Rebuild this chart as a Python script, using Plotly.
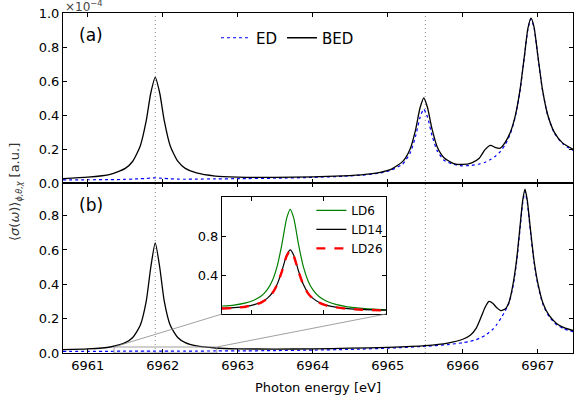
import plotly.graph_objects as go

# ---------------- data ----------------
energy_a = [6960.67, 6961.0, 6961.3, 6961.5, 6961.6, 6961.7, 6961.78, 6961.84, 6961.9, 6961.96,
            6962.02, 6962.1, 6962.2, 6962.3, 6962.45, 6962.7, 6963.0, 6963.5, 6964.0, 6964.4,
            6964.7, 6964.9, 6965.05, 6965.2, 6965.3, 6965.37, 6965.43, 6965.48, 6965.53, 6965.59,
            6965.66, 6965.75, 6965.87, 6966.0, 6966.12, 6966.22, 6966.3, 6966.37, 6966.44, 6966.5,
            6966.57, 6966.64, 6966.7, 6966.76, 6966.82, 6966.87, 6966.91, 6966.95, 6967.0, 6967.06,
            6967.13, 6967.22, 6967.33, 6967.47]
bed_a = [0.026, 0.034, 0.051, 0.086, 0.128, 0.218, 0.367, 0.528, 0.621, 0.528,
         0.367, 0.218, 0.128, 0.086, 0.059, 0.041, 0.035, 0.033, 0.036, 0.042,
         0.051, 0.063, 0.082, 0.127, 0.202, 0.311, 0.441, 0.500, 0.444, 0.318,
         0.212, 0.149, 0.116, 0.109, 0.119, 0.146, 0.198, 0.221, 0.208, 0.205,
         0.242, 0.305, 0.395, 0.537, 0.740, 0.912, 0.970, 0.918, 0.754, 0.558,
         0.406, 0.299, 0.236, 0.198]
ed_a = [0.018, 0.019, 0.020, 0.021, 0.023, 0.025, 0.027, 0.029, 0.030, 0.029,
        0.027, 0.025, 0.023, 0.022, 0.023, 0.024, 0.0255, 0.028, 0.033, 0.0395,
        0.048, 0.059, 0.077, 0.112, 0.178, 0.274, 0.385, 0.435, 0.388, 0.280,
        0.189, 0.134, 0.110, 0.101, 0.104, 0.112, 0.122, 0.138, 0.159, 0.185,
        0.228, 0.296, 0.388, 0.531, 0.736, 0.908, 0.966, 0.915, 0.751, 0.555,
        0.403, 0.295, 0.232, 0.192]

energy_b = [6960.67, 6961.0, 6961.3, 6961.5, 6961.6, 6961.7, 6961.78, 6961.84, 6961.9, 6961.96,
            6962.02, 6962.1, 6962.2, 6962.3, 6962.45, 6962.7, 6963.0, 6963.5, 6964.0, 6964.5,
            6965.0, 6965.5, 6965.8, 6966.0, 6966.1, 6966.18, 6966.25, 6966.3, 6966.35, 6966.4,
            6966.45, 6966.51, 6966.57, 6966.62, 6966.67, 6966.72, 6966.76, 6966.8, 6966.83, 6966.86,
            6966.9, 6966.95, 6967.0, 6967.07, 6967.15, 6967.25, 6967.35, 6967.47]
bed_b = [0.020, 0.024, 0.035, 0.060, 0.090, 0.161, 0.302, 0.498, 0.641, 0.498,
         0.302, 0.161, 0.090, 0.060, 0.041, 0.029, 0.024, 0.023, 0.024, 0.028,
         0.033, 0.043, 0.058, 0.080, 0.103, 0.145, 0.215, 0.268, 0.300, 0.290,
         0.265, 0.247, 0.258, 0.300, 0.400, 0.550, 0.720, 0.890, 0.954, 0.890,
         0.730, 0.540, 0.410, 0.290, 0.220, 0.172, 0.148, 0.131]
ed_b = [0.010, 0.010, 0.010, 0.011, 0.011, 0.011, 0.011, 0.011, 0.011, 0.011,
        0.011, 0.011, 0.011, 0.011, 0.011, 0.012, 0.012, 0.014, 0.017, 0.021,
        0.028, 0.039, 0.049, 0.060, 0.068, 0.078, 0.091, 0.103, 0.119, 0.138,
        0.164, 0.203, 0.248, 0.296, 0.388, 0.535, 0.705, 0.875, 0.940, 0.877,
        0.718, 0.530, 0.400, 0.282, 0.212, 0.165, 0.141, 0.124]

energy_inset = [6961.35, 6961.45, 6961.55, 6961.62, 6961.68, 6961.73, 6961.77, 6961.81, 6961.85, 6961.89,
                6961.92, 6961.95, 6961.99, 6962.03, 6962.07, 6962.11, 6962.16, 6962.22, 6962.3, 6962.4,
                6962.52, 6962.72]
ld6 = [0.082, 0.092, 0.114, 0.143, 0.187, 0.253, 0.341, 0.486, 0.712, 0.981,
       1.074, 0.980, 0.710, 0.483, 0.337, 0.247, 0.179, 0.133, 0.098, 0.074,
       0.057, 0.042]
ld14 = [0.059, 0.065, 0.078, 0.096, 0.123, 0.163, 0.216, 0.303, 0.440, 0.602,
        0.658, 0.601, 0.439, 0.302, 0.213, 0.160, 0.120, 0.091, 0.071, 0.056,
        0.047, 0.039]
ld26 = [0.057, 0.062, 0.075, 0.093, 0.120, 0.159, 0.212, 0.298, 0.434, 0.594,
        0.649, 0.593, 0.433, 0.297, 0.209, 0.157, 0.117, 0.088, 0.068, 0.053,
        0.044, 0.036]

x_ticks = [6961, 6962, 6963, 6964, 6965, 6966, 6967]
ya_ticks = [0.0, 0.2, 0.4, 0.6, 0.8, 1.0]
yb_ticks = [0.0, 0.2, 0.4, 0.6, 0.8]
inset_x_ticks = [6961.6, 6962.2]
inset_y_ticks = [0.4, 0.8]
x_range = [6960.67, 6967.47]
ya_range = [0.0, 1.0]
yb_range = [0.0, 0.99]
inset_x_range = [6961.35, 6962.72]
inset_y_range = [0.0, 1.2]
marker_energies = [6961.9, 6965.5]
zoom_box_top = 0.035

# ---------------- layout geometry ----------------
W, H = 578, 402
ML, MR, MT, MB = 63, 5, 13, 49
PW, PH = W - ML - MR, H - MT - MB
inset_dom_x = [(222 - ML) / PW, (386 - ML) / PW]
inset_dom_y = [(H - MB - 314) / PH, (H - MB - 197) / PH]

FONT = "DejaVu Sans"
fig = go.Figure()

line_ed = dict(color="#0000ff", width=1.2, dash="dot", shape="spline", smoothing=0.6)
line_bed = dict(color="black", width=1.3, shape="spline", smoothing=0.6)

fig.add_trace(go.Scatter(x=energy_a, y=ed_a, xaxis="x", yaxis="y", mode="lines", name="ED",
                         line=line_ed, legend="legend"))
fig.add_trace(go.Scatter(x=energy_a, y=bed_a, xaxis="x", yaxis="y", mode="lines", name="BED",
                         line=line_bed, legend="legend"))
fig.add_trace(go.Scatter(x=energy_b, y=ed_b, xaxis="x2", yaxis="y2", mode="lines", name="ED",
                         line=line_ed, showlegend=False))
fig.add_trace(go.Scatter(x=energy_b, y=bed_b, xaxis="x2", yaxis="y2", mode="lines", name="BED",
                         line=line_bed, showlegend=False))

fig.add_trace(go.Scatter(x=energy_inset, y=ld6, xaxis="x3", yaxis="y3", mode="lines", name="LD6",
                         line=dict(color="#008000", width=1.2, shape="spline", smoothing=0.6), legend="legend2"))
fig.add_trace(go.Scatter(x=energy_inset, y=ld14, xaxis="x3", yaxis="y3", mode="lines", name="LD14",
                         line=dict(color="black", width=1.2, shape="spline", smoothing=0.6), legend="legend2"))
fig.add_trace(go.Scatter(x=energy_inset, y=ld26, xaxis="x3", yaxis="y3", mode="lines", name="LD26",
                         line=dict(color="#ff0000", width=2.4, dash="dash", shape="spline", smoothing=0.6),
                         legend="legend2"))

common = dict(showline=True, linecolor="black", linewidth=1, mirror="ticks", ticks="inside",
              ticklen=4, tickcolor="black", showgrid=False, zeroline=False,
              tickfont=dict(family=FONT, size=13, color="black"))

fig.update_layout(
    width=W, height=H,
    margin=dict(l=ML, r=MR, t=MT, b=MB),
    paper_bgcolor="white", plot_bgcolor="white",
    font=dict(family=FONT, size=13, color="black"),
    xaxis=dict(domain=[0, 1], anchor="y", range=x_range, tickvals=x_ticks, showticklabels=False, **common),
    yaxis=dict(domain=[0.5, 1], anchor="x", range=ya_range, tickvals=ya_ticks, tickformat=".1f", **common),
    xaxis2=dict(domain=[0, 1], anchor="y2", range=x_range, tickvals=x_ticks,
                title=dict(text="Photon energy [eV]", font=dict(family=FONT, size=13), standoff=11), **common),
    yaxis2=dict(domain=[0, 0.5], anchor="x2", range=yb_range, tickvals=yb_ticks, tickformat=".1f", **common),
    xaxis3=dict(domain=inset_dom_x, anchor="y3", range=inset_x_range, tickvals=inset_x_ticks,
                showticklabels=False, **common),
    yaxis3=dict(domain=inset_dom_y, anchor="x3", range=inset_y_range, tickvals=inset_y_ticks,
                tickformat=".1f", **common),
    legend=dict(orientation="h", x=0.30, y=0.975, xanchor="left", yanchor="top",
                font=dict(family=FONT, size=15), bgcolor="rgba(0,0,0,0)", itemwidth=30,
                tracegroupgap=0),
    legend2=dict(orientation="v", x=0.487, y=0.462, xanchor="left", yanchor="top",
                 font=dict(family=FONT, size=12), bgcolor="rgba(0,0,0,0)", itemwidth=30,
                 tracegroupgap=0),
)

shapes = []
for e in marker_energies:
    shapes.append(dict(type="line", xref="x", yref="paper", x0=e, x1=e, y0=0, y1=1,
                       line=dict(color="#888888", width=1, dash="1px,3px"), layer="below"))


def to_paper_b(xv, yv):
    px = (xv - x_range[0]) / (x_range[1] - x_range[0])
    py = (yv - yb_range[0]) / (yb_range[1] - yb_range[0]) * 0.5
    return px, py


p_left = to_paper_b(inset_x_range[0], zoom_box_top)
p_right = to_paper_b(inset_x_range[1], zoom_box_top)
shapes.append(dict(type="rect", xref="x2", yref="y2", x0=inset_x_range[0], x1=inset_x_range[1],
                   y0=0, y1=zoom_box_top, line=dict(color="#888888", width=0.8)))
shapes.append(dict(type="line", xref="paper", yref="paper", x0=inset_dom_x[0], y0=inset_dom_y[0],
                   x1=p_left[0], y1=p_left[1], line=dict(color="#888888", width=0.8)))
shapes.append(dict(type="line", xref="paper", yref="paper", x0=inset_dom_x[1], y0=inset_dom_y[0],
                   x1=p_right[0], y1=p_right[1], line=dict(color="#888888", width=0.8)))
fig.update_layout(shapes=shapes)

ylabel = ("⟨<i>σ</i>(<i>ω</i>)⟩<sub><span style='font-size:8px'><i>ϕ,θ,χ</i></span></sub>"
          " [a.u.]")
annotations = [
    dict(text=ylabel, xref="paper", yref="paper",
         x=(15 - ML) / PW, y=(H - MB - 192) / PH, textangle=-90, showarrow=False,
         xanchor="center", yanchor="middle",
         font=dict(family=FONT, size=13, color="#333333")),
    dict(text="×10<sup>−4</sup>", xref="paper", yref="paper", x=0, y=1, xanchor="left", yanchor="bottom",
         yshift=-3, showarrow=False, font=dict(family=FONT, size=12, color="#444444")),
    dict(text="(a)", xref="paper", yref="paper", x=(77 - ML) / PW, y=(H - MB - 35) / PH,
         xanchor="left", yanchor="middle", showarrow=False, font=dict(family=FONT, size=17, color="black")),
    dict(text="(b)", xref="paper", yref="paper", x=(77 - ML) / PW, y=(H - MB - 205) / PH,
         xanchor="left", yanchor="middle", showarrow=False, font=dict(family=FONT, size=17, color="black")),
]
fig.update_layout(annotations=annotations)

fig.write_html("out.html")
